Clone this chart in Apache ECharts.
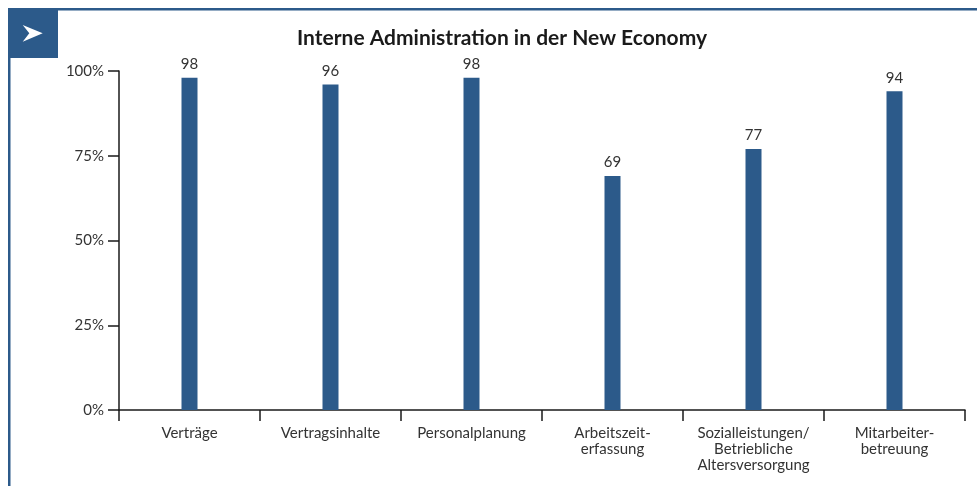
<!DOCTYPE html>
<html>
<head>
<meta charset="utf-8">
<script src="https://cdn.jsdelivr.net/npm/echarts@6/dist/echarts.min.js"></script>
<style>
  html, body { margin: 0; padding: 0; background: #fff; }
  #chart { width: 977px; height: 486px; }
</style>
</head>
<body>
<div id="chart"></div>
<script>
// Anteil der Unternehmen je Verwaltungsbereich (in %)
const categories = [
  'Verträge',
  'Vertragsinhalte',
  'Personalplanung',
  'Arbeitszeit-\nerfassung',
  'Sozialleistungen/\nBetriebliche\nAltersversorgung',
  'Mitarbeiter-\nbetreuung'
];
const values = [98, 96, 98, 69, 77, 94];
const yTicks = [0, 25, 50, 75, 100];

const blue = '#2c5a8a';
const font = 'Lato, "Open Sans", sans-serif';

const chart = echarts.init(document.getElementById('chart'), null, { renderer: 'canvas' });

chart.setOption({
  animation: false,
  backgroundColor: '#fff',
  title: {
    text: 'Interne Administration in der New Economy',
    left: 497,
    textAlign: 'center',
    top: 23,
    textStyle: { fontFamily: font, fontSize: 21, fontWeight: 'bold', color: '#1a1a1a' }
  },
  grid: { left: 119, right: 12, top: 71, bottom: 76, containLabel: false },
  xAxis: {
    type: 'category',
    data: categories,
    boundaryGap: true,
    axisLine: { lineStyle: { color: '#1a1a1a', width: 1.5 } },
    axisTick: { show: true, length: 11, lineStyle: { color: '#1a1a1a', width: 1.5 } },
    axisLabel: {
      interval: 0,
      margin: 15,
      fontFamily: font,
      fontSize: 15,
      lineHeight: 16,
      color: '#333'
    }
  },
  yAxis: {
    type: 'value',
    min: yTicks[0],
    max: yTicks[yTicks.length - 1],
    interval: 25,
    splitLine: { show: false },
    axisLine: { show: true, lineStyle: { color: '#1a1a1a', width: 1.5 } },
    axisTick: { show: true, length: 11, lineStyle: { color: '#1a1a1a', width: 1.5 } },
    axisLabel: {
      formatter: '{value}%',
      margin: 15,
      fontFamily: font,
      fontSize: 15,
      color: '#333'
    }
  },
  series: [{
    type: 'bar',
    data: values,
    barWidth: 16,
    itemStyle: { color: blue },
    label: {
      show: true,
      position: 'top',
      distance: 6,
      fontFamily: font,
      fontSize: 15,
      color: '#333'
    }
  }],
  graphic: [
    // Rahmen oben und links
    { type: 'rect', shape: { x: 8, y: 8, width: 969, height: 2.5 }, style: { fill: blue } },
    { type: 'rect', shape: { x: 8, y: 8, width: 2.5, height: 478 }, style: { fill: blue } },
    // Markierungsfeld mit Pfeil
    { type: 'rect', shape: { x: 8, y: 8, width: 50, height: 50 }, style: { fill: blue } },
    {
      type: 'polygon',
      shape: { points: [[22.7, 25], [42.7, 33.3], [22.7, 41.7], [29.3, 33.3]] },
      style: { fill: '#fff' }
    }
  ]
});
</script>
</body>
</html>
